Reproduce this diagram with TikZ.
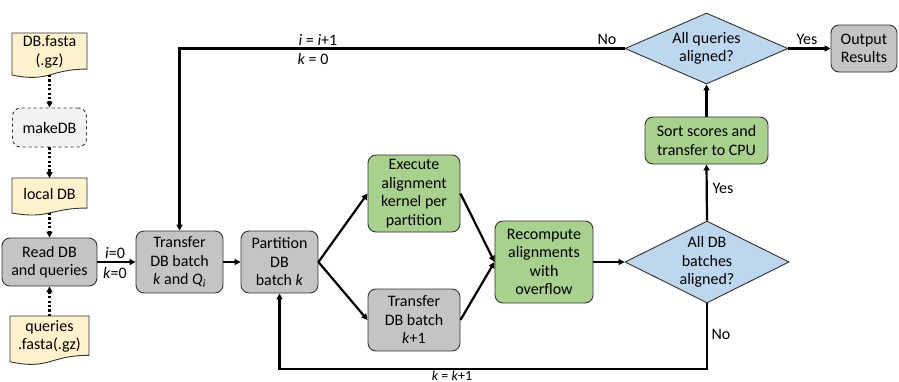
\documentclass[tikz,border=0pt]{standalone}
\usepackage{fontspec}
\setmainfont{Carlito}
\usetikzlibrary{shapes.geometric,arrows.meta,calc}
\definecolor{grayfill}{HTML}{C4C4C4}
\definecolor{greenfill}{HTML}{A9D18E}
\definecolor{bluefill}{HTML}{BDD7EE}
\definecolor{docfill}{HTML}{FFF2CC}
\definecolor{lightfill}{HTML}{F2F2F2}
\definecolor{edge}{HTML}{333333}
\newcommand{\mydocshape}[6]{%
  \filldraw[docstyle] (#2,#3) -- ({#2+#4},#3) -- ({#2+#4},{#3+0.802*#5})
    .. controls ({#2+#4/2},{#3+0.802*#5}) and ({#2+#4/2},{#3+1.107*#5}) .. (#2,{#3+0.934*#5}) -- cycle;
  \node[txt] (#1) at ({#2+#4/2},{#3+0.42*#5}) {#6};
  \coordinate (#1-top) at ({#2+#4/2},#3);
  \coordinate (#1-bot) at ({#2+#4/2},{#3+0.933*#5});
}
\begin{document}
\begin{tikzpicture}[x=1pt,y=-1pt,
  font=\fontsize{16}{18.5}\selectfont,
  txt/.style={align=center,inner sep=0pt},
  docstyle/.style={fill=docfill,draw=edge,line width=0.9pt},
  proc/.style={rectangle,rounded corners=8pt,draw=edge,line width=0.9pt,fill=grayfill,align=center,inner sep=0pt},
  gproc/.style={proc,fill=greenfill},
  dproc/.style={proc,fill=lightfill,dashed},
  decision/.style={diamond,aspect=2,draw=edge,line width=0.9pt,fill=bluefill,align=center,inner sep=0pt},
  arr/.style={line width=2.2pt,-{Triangle[length=6pt,width=6pt]}},
  dotarr/.style={line width=2.4pt,dash pattern=on 2.2pt off 2.2pt,-{Triangle[length=6pt,width=6pt]}},
  lbl/.style={inner sep=0pt}]
\useasboundingbox (0,0) rectangle (899,381);

% documents
\mydocshape{dbf}{12}{33}{75}{45}{DB.fasta\\(.gz)}
\mydocshape{ldb}{12}{178}{75}{37.5}{local DB}
\mydocshape{qry}{10}{316}{79}{49}{queries\\.fasta(.gz)}

% process nodes
\node[dproc,minimum width=74pt,minimum height=39pt] (mk) at (49.5,127.5) {makeDB};
\node[proc,minimum width=95pt,minimum height=48pt] (read) at (49.5,262) {Read DB\\and queries};
\node[proc,minimum width=87pt,minimum height=62pt] (trans) at (179.5,262) {Transfer\\DB batch\\\textit{k} and \textit{Q}\textsubscript{\textit{i}}};
\node[proc,minimum width=77pt,minimum height=62pt] (part) at (279.5,262) {Partition\\DB\\batch \textit{k}};
\node[gproc,minimum width=92pt,minimum height=77pt] (exec) at (414,193.5) {Execute\\alignment\\kernel per\\partition};
\node[proc,minimum width=92pt,minimum height=62pt] (tnext) at (414,320) {Transfer\\DB batch\\\textit{k}+1};
\node[gproc,minimum width=98pt,minimum height=82pt] (recomp) at (544,262) {Recompute\\alignments\\with\\overflow};
\node[decision,minimum width=164pt,minimum height=82pt] (alldb) at (707,262) {All DB\\batches\\aligned?};
\node[gproc,minimum width=123pt,minimum height=47pt] (sort) at (706.5,140.5) {Sort scores and\\transfer to CPU};
\node[decision,minimum width=163pt,minimum height=71pt] (allq) at (706.5,48.5) {All queries\\aligned?};
\node[proc,minimum width=66pt,minimum height=47pt] (out) at (864,48.5) {Output\\Results};

% dotted arrows
\draw[dotarr] (dbf-bot) -- (mk.north);
\draw[dotarr] (mk.south) -- (ldb-top);
\draw[dotarr] (ldb-bot) -- (read.north);
\draw[dotarr] (qry-top) -- (read.south);

% solid connectors
\draw[arr] (read.east) -- (trans.west);
\draw[arr] (trans.east) -- (part.west);
\draw[arr] (part.east) -- (exec.west);
\draw[arr] (part.east) -- (tnext.west);
\draw[arr] (exec.east) -- (recomp.west);
\draw[arr] (tnext.east) -- (recomp.west);
\draw[arr] (recomp.east) -- (alldb.west);
\draw[arr] (alldb.north) -- (sort.south);
\draw[arr] (sort.north) -- (allq.south);
\draw[arr] (allq.east) -- (out.west);
\draw[arr] (allq.west) -| (trans.north);
\coordinate (bot) at (0,369);
\draw[arr] (alldb.south) -- (alldb.south |- bot) -| (part.south);

% labels
\node[lbl] (l1) at (115,253) {\textit{i}=0};
\node[lbl] (l2) at (115,273) {\textit{k}=0};
\node[lbl] (l3) at (318,40) {\textit{i} = \textit{i}+1};
\node[lbl] (l4) at (313,59) {\textit{k} = 0};
\node[lbl] (l5) at (607,39) {No};
\node[lbl] (l6) at (807,39) {Yes};
\node[lbl] (l7) at (723,188) {Yes};
\node[lbl] (l8) at (721,334) {No};
\node[lbl,anchor=north,font=\fontsize{14}{16}\selectfont] (l9) at (452,370.6) {\textit{k} = \textit{k}+1};
\end{tikzpicture}
\end{document}
